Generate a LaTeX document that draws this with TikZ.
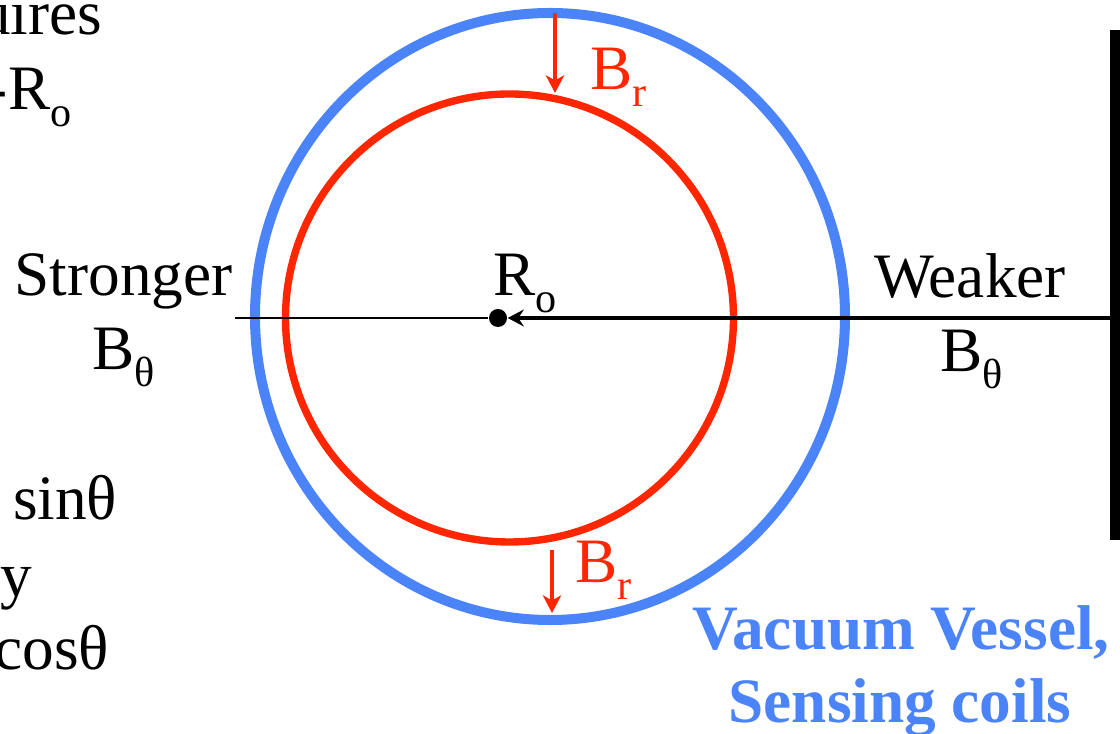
\documentclass[tikz,border=0pt]{standalone}
\usepackage{fontspec}
\setmainfont{Liberation Serif}
\usepackage{xcolor}
\usetikzlibrary{arrows.meta, positioning}

\definecolor{vvblue}{RGB}{74,132,248}
\definecolor{plred}{RGB}{255,38,0}

\newcommand{\lowidx}[1]{\raisebox{-0.26em}{\fontsize{12}{13}\selectfont #1}}

\tikzset{
	lbl/.style={font=\fontsize{18}{21}\selectfont, inner sep=0pt},
	vessel/.style={draw=vvblue, line width=2.85pt},
	plasma/.style={draw=plred, line width=2.1pt},
	brarrow/.style={draw=plred, line width=1.1pt, -{Stealth[length=5pt,width=5.2pt,inset=1.4pt]}}
}

\begin{document}
\begin{tikzpicture}
	\useasboundingbox (0,0) rectangle (11.2,-7.34);
	
	% vessel and plasma
	\draw[vessel] (5.50,-3.165) ellipse (2.95 and 3.035);
	\draw[plasma] (5.095,-3.18) circle (2.24);
	
	% wall on the right
	\fill (11.10,-0.30) rectangle (11.20,-5.40);
	\coordinate (wall) at (11.10,-3.18);
	\coordinate (lend) at (2.35,-3.18);
	
	% major radius point
	\node[circle, fill, inner sep=0pt, minimum size=0.18cm] (ro) at (4.98,-3.18) {};
	\draw[line width=0.7pt] (lend) -- (ro);
	\draw[line width=1.3pt, -{Stealth[length=4.6pt,width=4.8pt,inset=1.6pt]}] (wall) -- (ro);
	
	% radial field arrows
	\coordinate (brtopa) at (5.55,-0.13);
	\coordinate (brtopb) at (5.55,-0.93);
	\coordinate (brbota) at (5.52,-5.50);
	\coordinate (brbotb) at (5.52,-6.13);
	\draw[brarrow] (brtopa) -- (brtopb);
	\draw[brarrow] (brbota) -- (brbotb);
	
	\node[lbl, plred, anchor=base west] (brtop) at (5.90,-0.90) {B\lowidx{r}};
	\node[lbl, plred, anchor=base west] (brbot) at (5.75,-5.83) {B\lowidx{r}};
	
	\node[lbl, anchor=base west] (rolbl) at (4.93,-2.96) {R\lowidx{o}};
	
	\node[lbl, anchor=base] (strong) at (1.235,-2.96) {Stronger};
	\node[lbl, anchor=base west] (bthl) at (0.92,-3.70) {B\lowidx{θ}};
	\node[lbl, anchor=base] (weak) at (9.70,-2.98) {Weaker};
	\node[lbl, anchor=base west] (bthr) at (9.40,-3.72) {B\lowidx{θ}};
	
	\node[lbl, vvblue, font=\fontsize{18}{21}\selectfont\bfseries, anchor=base] (vv) at (9.01,-6.50) {Vacuum Vessel,};
	\node[lbl, vvblue, font=\fontsize{18}{21}\selectfont\bfseries, anchor=base] (sc) at (9.00,-7.23) {Sensing coils};
	
	% text running in from the left
	\node[lbl, anchor=base east] (t1) at (1.03,-0.35) {uires};
	\node[lbl, anchor=base east] (t2) at (0.72,-1.10) {-R\lowidx{o}};
	\node[lbl, anchor=base east] (t3) at (1.18,-5.20) {sinθ};
	\node[lbl, anchor=base east] (t4) at (0.33,-5.97) {y};
	\node[lbl, anchor=base east] (t5) at (1.10,-6.70) {cosθ};
\end{tikzpicture}
\end{document}
